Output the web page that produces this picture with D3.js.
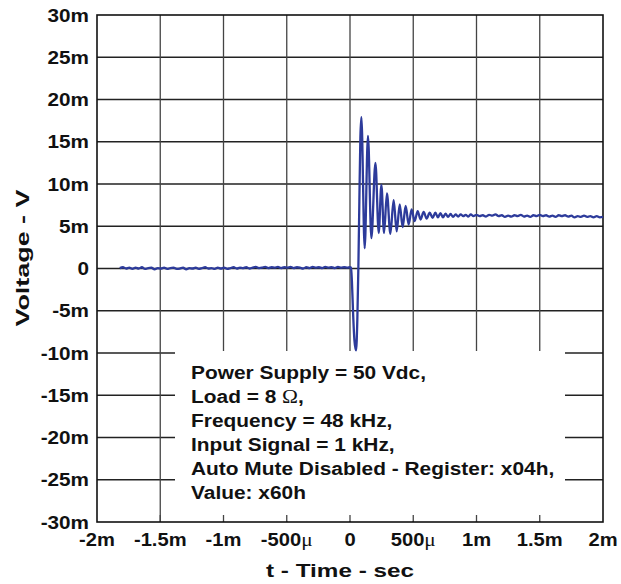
<!DOCTYPE html>
<html>
  <head>
    <meta charset="utf-8">
    <script src="https://cdn.jsdelivr.net/npm/d3@7"></script>
    <style>
      body { margin: 0; background: white; }
      svg { display: block; }
      text { font-family: "Liberation Sans", Arial, sans-serif; font-weight: bold; fill: #111; }
      .sym { font-family: "Liberation Serif", "DejaVu Serif", serif; font-weight: normal; }
    </style>
  </head>
  <body>
    <div id="chart"></div>
    <script>
      // time in microseconds, voltage in millivolts
      var yTicks = [-30, -25, -20, -15, -10, -5, 0, 5, 10, 15, 20, 25, 30];
      var yTickLabels = ["-30m", "-25m", "-20m", "-15m", "-10m", "-5m", "0", "5m", "10m", "15m", "20m", "25m", "30m"];
      var xTicks = [-2000, -1500, -1000, -500, 0, 500, 1000, 1500, 2000];
      var xTickLabels = ["-2m", "-1.5m", "-1m", "-500\u03bc", "0", "500\u03bc", "1m", "1.5m", "2m"];

      // flat part before the step
      var preStep = [
        [-1820, 0.05], [-1795, 0.15], [-1770, 0.0], [-1745, 0.1], [-1720, -0.05], [-1695, 0.1],
        [-1670, 0.0], [-1645, 0.15], [-1620, -0.05], [-1595, 0.05], [-1570, 0.1], [-1545, -0.1],
        [-1520, 0.05], [-1495, 0.0], [-1470, 0.1], [-1445, -0.05], [-1420, 0.05], [-1395, 0.1],
        [-1370, -0.05], [-1345, 0.0], [-1320, 0.1], [-1295, -0.1], [-1270, 0.05], [-1245, 0.0],
        [-1220, 0.1], [-1195, -0.05], [-1170, 0.05], [-1145, 0.15], [-1120, 0.0], [-1095, 0.05],
        [-1070, -0.05], [-1045, 0.1], [-1020, 0.0], [-995, 0.1], [-970, -0.05], [-945, 0.05],
        [-920, 0.15], [-895, 0.0], [-870, 0.1], [-845, 0.05], [-820, 0.15], [-795, 0.0],
        [-770, 0.1], [-745, 0.2], [-720, 0.05], [-695, 0.1], [-670, 0.2], [-645, 0.05],
        [-620, 0.15], [-595, 0.1], [-570, 0.2], [-545, 0.05], [-520, 0.15], [-495, 0.1],
        [-470, 0.2], [-445, 0.05], [-420, 0.15], [-395, 0.1], [-370, 0.0], [-345, 0.15],
        [-320, 0.05], [-295, 0.2], [-270, 0.1], [-245, 0.15], [-220, 0.05], [-195, 0.2],
        [-170, 0.1], [-145, 0.15], [-120, 0.05], [-95, 0.2], [-70, 0.1], [-45, 0.15],
        [-20, 0.1], [0, 0.15]
      ];

      // dip, overshoot and ringing
      var transient = [
        [8, 0.1], [15, -1.5], [25, -5.5], [35, -8.5], [48, -9.7], [58, -6], [66, 0],
        [74, 8], [82, 15.5], [90, 17.9], [116, 2.4], [142, 15.7], [169, 3.6], [201, 12.5],
        [227, 4.2], [248, 9.9], [269, 4.2], [292, 8.9], [319, 4.1], [345, 8.1], [369, 4.4],
        [393, 7.6], [416, 4.9], [440, 7.4], [464, 5.2], [487, 7.0], [511, 5.6], [535, 6.8],
        [558, 5.8], [582, 6.7], [606, 5.9], [630, 6.6], [653, 6.0]
      ];

      // settled level with small ripple
      var settled = [
        [675, 6.6], [695, 6.05], [715, 6.55], [735, 6.05], [755, 6.5], [775, 6.1], [795, 6.45],
        [815, 6.1], [835, 6.4], [855, 6.15], [875, 6.4], [895, 6.2], [915, 6.35], [935, 6.15],
        [955, 6.4], [975, 6.2], [1000, 6.35], [1025, 6.2], [1050, 6.3], [1075, 6.15], [1100, 6.35],
        [1125, 6.25], [1150, 6.4], [1175, 6.2], [1200, 6.3], [1225, 6.1], [1250, 6.25], [1275, 6.15],
        [1300, 6.3], [1325, 6.2], [1350, 6.35], [1375, 6.15], [1400, 6.25], [1425, 6.1], [1450, 6.3],
        [1475, 6.2], [1500, 6.35], [1525, 6.2], [1550, 6.3], [1575, 6.15], [1600, 6.25], [1625, 6.1],
        [1650, 6.3], [1675, 6.2], [1700, 6.3], [1725, 6.15], [1750, 6.25], [1775, 6.05], [1800, 6.2],
        [1825, 6.1], [1850, 6.25], [1875, 6.1], [1900, 6.2], [1925, 6.05], [1950, 6.2], [1975, 6.05],
        [2000, 6.1]
      ];

      var noteLines = [
        "Power Supply = 50 Vdc,",
        ["Load = 8 ", "\u03a9", ","],
        "Frequency = 48 kHz,",
        "Input Signal = 1 kHz,",
        "Auto Mute Disabled - Register: x04h,",
        "Value: x60h"
      ];

      var W = 621, H = 584;
      var margin = {top: 15, right: 18, bottom: 62, left: 97};
      var x = d3.scaleLinear().domain([-2000, 2000]).range([margin.left, W - margin.right]);
      var y = d3.scaleLinear().domain([-30, 30]).range([H - margin.bottom, margin.top]);

      var svg = d3.select("#chart").append("svg")
        .attr("width", W)
        .attr("height", H);

      var gridColor = "#222";

      // grid
      svg.append("g").selectAll("line")
        .data(yTicks.slice(1, -1))
        .enter().append("line")
          .attr("x1", x(-2000)).attr("x2", x(2000))
          .attr("y1", function(d) { return y(d); })
          .attr("y2", function(d) { return y(d); })
          .attr("stroke", gridColor)
          .attr("stroke-width", 1.3);
      svg.append("g").selectAll("line")
        .data(xTicks.slice(1, -1))
        .enter().append("line")
          .attr("y1", y(30)).attr("y2", y(-30))
          .attr("x1", function(d) { return x(d); })
          .attr("x2", function(d) { return x(d); })
          .attr("stroke", "#444")
          .attr("stroke-width", 1.3);

      // white note box hides the lower middle of the grid
      var boxLeft = 175, boxRight = 565;
      svg.append("rect")
        .attr("x", boxLeft)
        .attr("y", y(-10) - 2)
        .attr("width", boxRight - boxLeft)
        .attr("height", y(-30) - y(-10) + 1)
        .attr("fill", "white");

      // short ticks along the bottom inside the box
      svg.append("g").selectAll("line")
        .data(xTicks.slice(1, -1))
        .enter().append("line")
          .attr("y1", y(-30)).attr("y2", y(-30) - 7)
          .attr("x1", function(d) { return x(d); })
          .attr("x2", function(d) { return x(d); })
          .attr("stroke", "#444")
          .attr("stroke-width", 1.3);

      // frame
      svg.append("rect")
        .attr("x", x(-2000))
        .attr("y", y(30))
        .attr("width", x(2000) - x(-2000))
        .attr("height", y(-30) - y(30))
        .attr("fill", "none")
        .attr("stroke", "#111")
        .attr("stroke-width", 1.6);

      // trace
      var trace = preStep.concat(transient, settled);
      var line = d3.line()
        .x(function(d) { return x(d[0]); })
        .y(function(d) { return y(d[1]); })
        .curve(d3.curveMonotoneX);
      svg.append("path")
        .datum(trace)
        .attr("d", line)
        .attr("fill", "none")
        .attr("stroke", "#2d3b9b")
        .attr("stroke-width", 2.3)
        .attr("stroke-linejoin", "round");

      var sx = 1.12;

      // y tick labels
      svg.append("g").selectAll("text")
        .data(yTicks)
        .enter().append("text")
          .attr("transform", function(d) { return "translate(89," + (y(d) + 6.5) + ") scale(" + sx + ",1)"; })
          .attr("text-anchor", "end")
          .attr("font-size", 18.5)
          .text(function(d, i) { return yTickLabels[i]; });

      // x tick labels
      var xl = svg.append("g").selectAll("text")
        .data(xTicks)
        .enter().append("text")
          .attr("transform", function(d) { return "translate(" + x(d) + ",546) scale(" + sx + ",1)"; })
          .attr("text-anchor", "middle")
          .attr("font-size", 18);
      xl.each(function(d, i) {
        var lab = xTickLabels[i];
        var t = d3.select(this);
        if (lab.indexOf("\u03bc") >= 0) {
          t.append("tspan").text(lab.slice(0, -1));
          t.append("tspan").attr("class", "sym").attr("font-size", 19).text("\u03bc");
        } else {
          t.text(lab);
        }
      });

      // axis titles
      svg.append("text")
        .attr("transform", "translate(340,577)")
        .attr("text-anchor", "middle")
        .attr("font-size", 18)
        .attr("textLength", 148)
        .attr("lengthAdjust", "spacingAndGlyphs")
        .text("t - Time - sec");
      svg.append("text")
        .attr("transform", "translate(29,258) rotate(-90)")
        .attr("text-anchor", "middle")
        .attr("font-size", 19)
        .attr("textLength", 137)
        .attr("lengthAdjust", "spacingAndGlyphs")
        .text("Voltage - V");

      // note
      var note = svg.append("g")
        .attr("transform", "translate(191,379) scale(1.13,1)");
      noteLines.forEach(function(l, i) {
        var t = note.append("text")
          .attr("x", 0)
          .attr("y", i * 24.1)
          .attr("font-size", 18.5);
        if (Array.isArray(l)) {
          t.append("tspan").text(l[0]);
          t.append("tspan").attr("class", "sym").attr("font-size", 19).text(l[1]);
          t.append("tspan").text(l[2]);
        } else {
          t.text(l);
        }
      });
    </script>
  </body>
</html>
